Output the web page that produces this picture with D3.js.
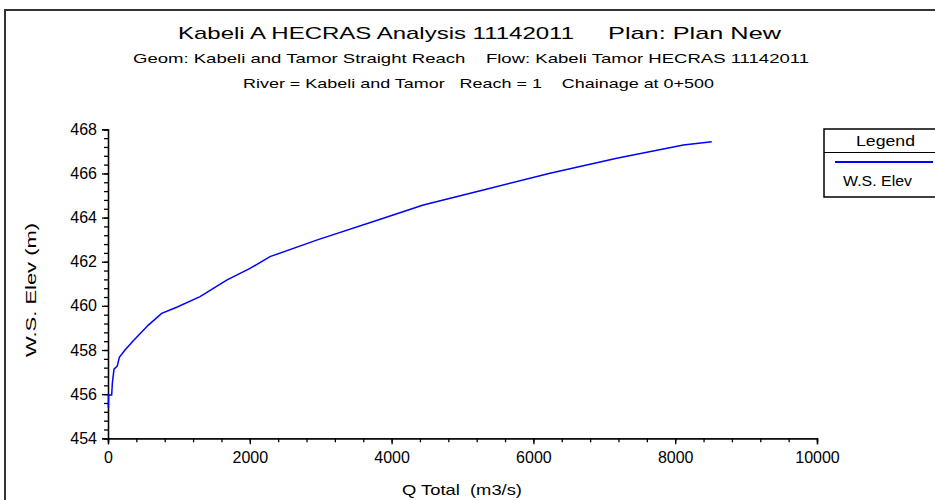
<!DOCTYPE html>
<html>
<head>
<meta charset="utf-8">
<script src="https://cdn.jsdelivr.net/npm/d3@7"></script>
<style>
  html, body { margin: 0; padding: 0; background: #fff; }
  svg { display: block; }
  text { font-family: "Liberation Sans", Arial, sans-serif; fill: #000; white-space: pre; }
</style>
</head>
<body>
<svg id="chart" width="935" height="500"></svg>
<script>
// ---- data ----
const qTotal = [5, 8, 52, 61, 85, 131, 160, 240, 357, 569, 757, 969, 1298, 1674, 2003, 2285, 2943, 3883, 4447, 5293, 6234, 7175, 8115, 8515];
const wsElev = [455.39, 455.96, 455.96, 456.49, 457.13, 457.28, 457.67, 458.0, 458.42, 459.13, 459.66, 459.94, 460.42, 461.17, 461.70, 462.23, 462.98, 463.97, 464.57, 465.25, 466.01, 466.69, 467.29, 467.44];
const xTicks = [0, 2000, 4000, 6000, 8000, 10000];
const yTicks = [454, 456, 458, 460, 462, 464, 466, 468];
const titleLines = [
  "Kabeli A HECRAS Analysis 11142011",
  "Plan: Plan New",
  "Geom: Kabeli and Tamor Straight Reach    Flow: Kabeli Tamor HECRAS 11142011",
  "River = Kabeli and Tamor   Reach = 1    Chainage at 0+500"
];
const xLabel = "Q Total  (m3/s)";
const yLabel = "W.S. Elev (m)";
const legendTitle = "Legend";
const seriesName = "W.S. Elev";

// ---- layout ----
const svg = d3.select("#chart");
const pLeft = 108, pRight = 817, pTop = 129.3, pBottom = 438.3;

const x = d3.scaleLinear().domain([0, 10000]).range([pLeft, pRight]);
const y = d3.scaleLinear().domain([454, 468]).range([pBottom, pTop]);

// outer frame
svg.append("rect").attr("x", 5).attr("y", 10).attr("width", 960).attr("height", 520)
  .attr("fill", "none").attr("stroke", "#333").attr("stroke-width", 2);

// titles
svg.append("text").attr("x", 178).attr("y", 39).attr("font-size", 17)
  .attr("textLength", 396).attr("lengthAdjust", "spacingAndGlyphs").text(titleLines[0]);
svg.append("text").attr("x", 608).attr("y", 39).attr("font-size", 17)
  .attr("textLength", 173).attr("lengthAdjust", "spacingAndGlyphs").text(titleLines[1]);
svg.append("text").attr("x", 133).attr("y", 63).attr("font-size", 13)
  .attr("textLength", 676).attr("lengthAdjust", "spacingAndGlyphs").text(titleLines[2]);
svg.append("text").attr("x", 243).attr("y", 88).attr("font-size", 13)
  .attr("textLength", 471).attr("lengthAdjust", "spacingAndGlyphs").text(titleLines[3]);

// minor ticks
const xMinor = d3.range(0, 10001, 400);
const yMinor = d3.range(454, 468.01, 0.4);

const gxMinor = svg.append("g").attr("transform", `translate(0,${pBottom})`)
  .call(d3.axisBottom(x).tickValues(xMinor).tickSize(4).tickFormat(""));
const gyMinor = svg.append("g").attr("transform", `translate(${pLeft},0)`)
  .call(d3.axisLeft(y).tickValues(yMinor).tickSize(4).tickFormat(""));

const gx = svg.append("g").attr("transform", `translate(0,${pBottom})`)
  .call(d3.axisBottom(x).tickValues(xTicks).tickSize(6).tickPadding(7).tickFormat(d3.format("d")));
const gy = svg.append("g").attr("transform", `translate(${pLeft},0)`)
  .call(d3.axisLeft(y).tickValues(yTicks).tickSize(6).tickPadding(5).tickFormat(d3.format("d")));

[gxMinor, gyMinor, gx, gy].forEach(g => {
  g.selectAll("path.domain").attr("stroke", "#000").attr("stroke-width", 1.3);
  g.selectAll(".tick line").attr("stroke", "#000").attr("stroke-width", 1.3);
  g.selectAll("text").attr("font-family", "Liberation Sans, Arial, sans-serif").attr("font-size", 16).attr("fill", "#000");
});

// axis labels
svg.append("text").attr("x", 402).attr("y", 495).attr("font-size", 15)
  .attr("textLength", 120).attr("lengthAdjust", "spacingAndGlyphs").text(xLabel);
svg.append("text").attr("transform", `translate(36,357) rotate(-90)`)
  .attr("font-size", 14).attr("textLength", 134).attr("lengthAdjust", "spacingAndGlyphs").text(yLabel);

// series line
const pts = qTotal.map((q, i) => [q, wsElev[i]]);
svg.append("path").datum(pts)
  .attr("fill", "none").attr("stroke", "#0000ff").attr("stroke-width", 1.5)
  .attr("d", d3.line().x(d => x(d[0])).y(d => y(d[1])));

// legend
const lg = svg.append("g");
lg.append("rect").attr("x", 824).attr("y", 129).attr("width", 130).attr("height", 68)
  .attr("fill", "#fff").attr("stroke", "#000").attr("stroke-width", 1.5);
lg.append("line").attr("x1", 824).attr("x2", 954).attr("y1", 152.5).attr("y2", 152.5)
  .attr("stroke", "#000").attr("stroke-width", 1);
lg.append("text").attr("x", 856).attr("y", 146).attr("font-size", 15)
  .attr("textLength", 59).attr("lengthAdjust", "spacingAndGlyphs").text(legendTitle);
lg.append("line").attr("x1", 835).attr("x2", 933).attr("y1", 162).attr("y2", 162)
  .attr("stroke", "#0000ff").attr("stroke-width", 2);
lg.append("text").attr("x", 843).attr("y", 186).attr("font-size", 15)
  .attr("textLength", 69).attr("lengthAdjust", "spacingAndGlyphs").text(seriesName);
</script>
</body>
</html>
